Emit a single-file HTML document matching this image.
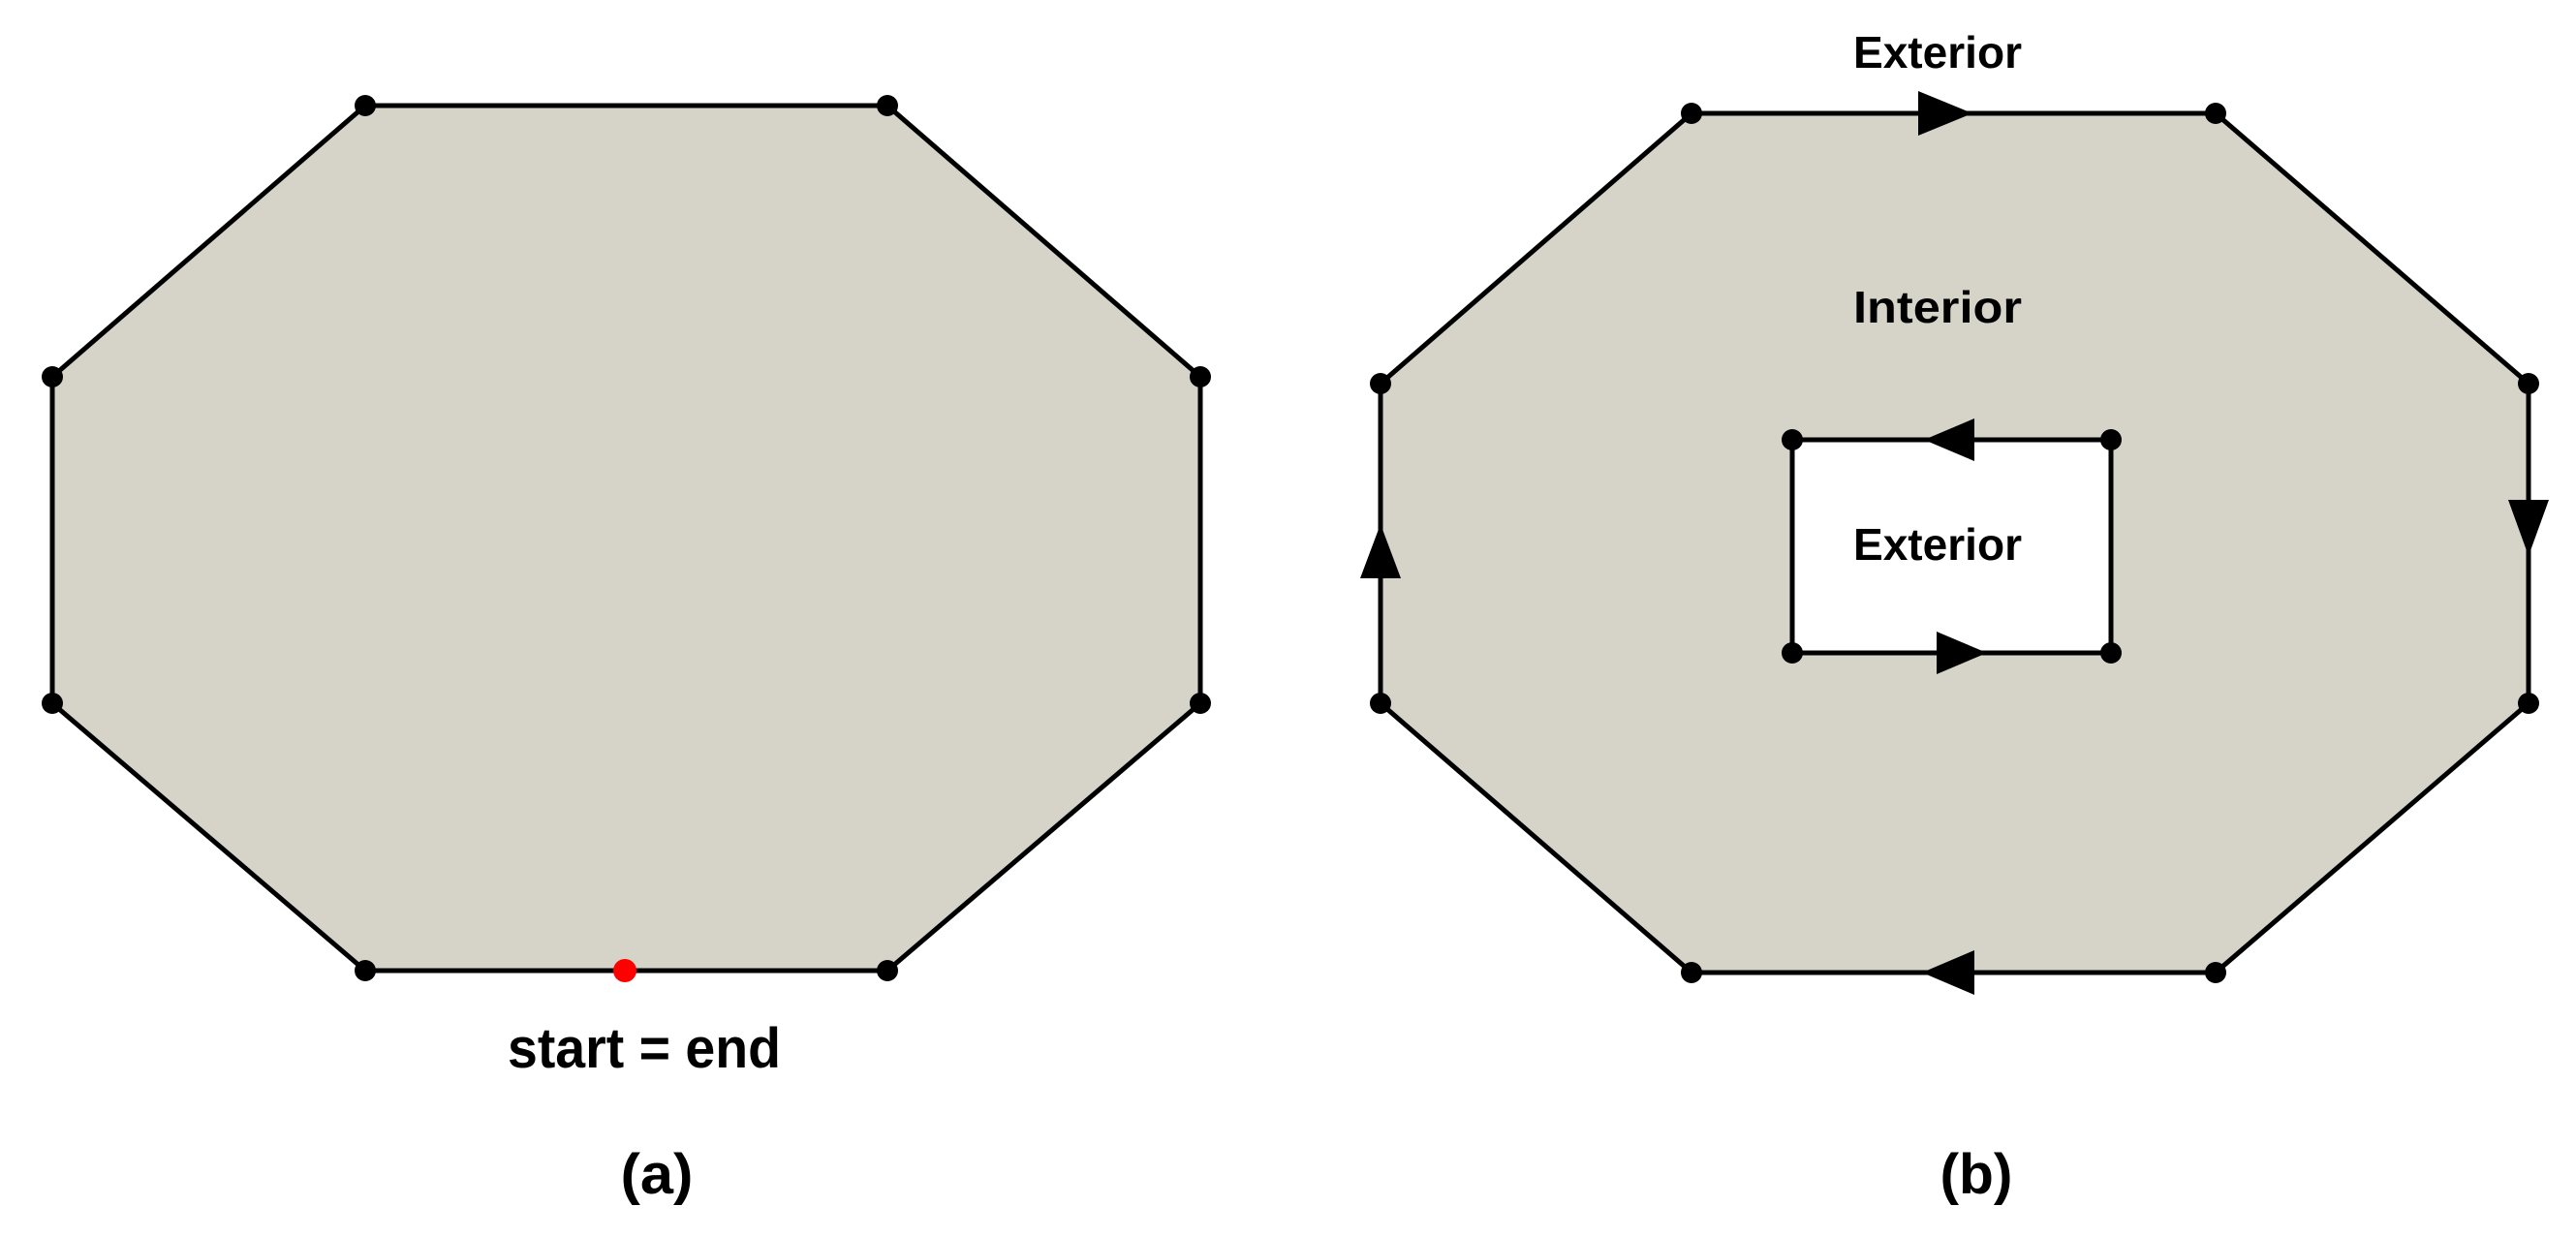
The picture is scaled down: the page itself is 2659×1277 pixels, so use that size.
<!DOCTYPE html>
<html><head><meta charset="utf-8"><style>html,body{margin:0;padding:0;background:#fff}svg{display:block}</style></head>
<body>
<svg width="2659" height="1277" viewBox="0 0 2659 1277" xmlns="http://www.w3.org/2000/svg" font-family="Liberation Sans, sans-serif" font-weight="bold">
<g stroke="#000" stroke-width="5" stroke-linejoin="round">
<polygon points="377,109 916,109 1239,389 1239,726 916,1002 377,1002 54,726 54,389" fill="#d6d4c8"/>
<polygon points="1746,117 2287,117 2610,396 2610,726 2287,1004 1746,1004 1425,726 1425,396" fill="#d6d4c8"/>
<rect x="1850" y="454" width="329" height="220" fill="#fff"/>
</g>
<g fill="#000">
<circle cx="377" cy="109" r="11"/><circle cx="916" cy="109" r="11"/><circle cx="1239" cy="389" r="11"/><circle cx="1239" cy="726" r="11"/>
<circle cx="916" cy="1002" r="11"/><circle cx="377" cy="1002" r="11"/><circle cx="54" cy="726" r="11"/><circle cx="54" cy="389" r="11"/>
<circle cx="1746" cy="117" r="11"/><circle cx="2287" cy="117" r="11"/><circle cx="2610" cy="396" r="11"/><circle cx="2610" cy="726" r="11"/>
<circle cx="2287" cy="1004" r="11"/><circle cx="1746" cy="1004" r="11"/><circle cx="1425" cy="726" r="11"/><circle cx="1425" cy="396" r="11"/>
<circle cx="1850" cy="454" r="11"/><circle cx="2179" cy="454" r="11"/><circle cx="1850" cy="674" r="11"/><circle cx="2179" cy="674" r="11"/>
<polygon points="1980,94 2036,117 1980,140"/>
<polygon points="2038,981 1984,1004 2038,1027"/>
<polygon points="1404,597 1425,541 1446,597"/>
<polygon points="2589,516 2610,574 2631,516"/>
<polygon points="2038,432 1986,454 2038,476"/>
<polygon points="1999,652 2051,674 1999,696"/>
</g>
<circle cx="645" cy="1002" r="12" fill="#f00"/>
<g font-size="46" text-anchor="middle" fill="#000">
<text x="2000" y="70" textLength="174" lengthAdjust="spacingAndGlyphs">Exterior</text>
<text x="2000" y="333" textLength="174" lengthAdjust="spacingAndGlyphs">Interior</text>
<text x="2000" y="578" textLength="174" lengthAdjust="spacingAndGlyphs">Exterior</text>
</g>
<g font-size="58" text-anchor="middle" fill="#000">
<text x="665" y="1102" textLength="282" lengthAdjust="spacingAndGlyphs">start = end</text>
<text x="678" y="1232" textLength="75" lengthAdjust="spacingAndGlyphs">(a)</text>
<text x="2040" y="1232" textLength="75" lengthAdjust="spacingAndGlyphs">(b)</text>
</g>
</svg>
</body></html>
